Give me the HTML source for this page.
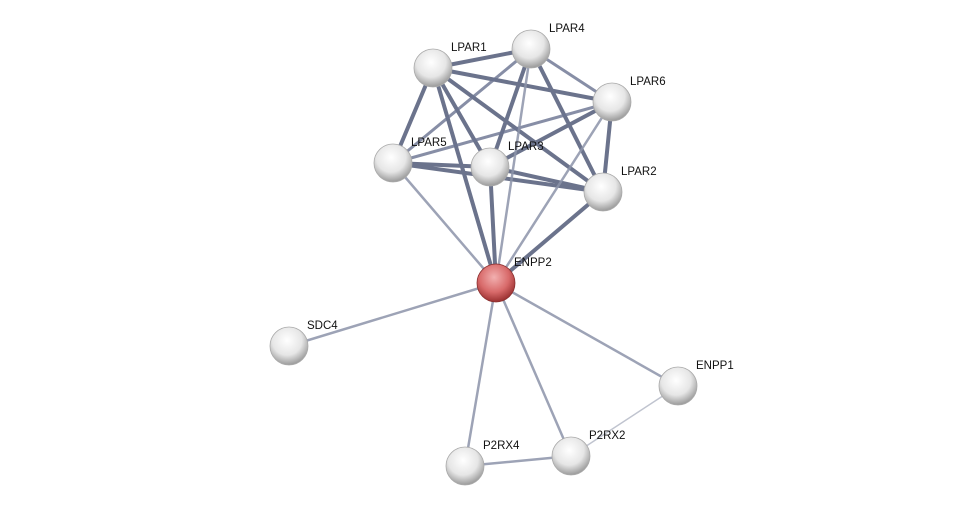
<!DOCTYPE html>
<html><head><meta charset="utf-8"><style>
html,body{margin:0;padding:0;background:#fff;}
svg{display:block;}
text{font-family:"Liberation Sans",sans-serif;font-size:11.5px;fill:#111;}
</style></head><body>
<svg width="975" height="511" viewBox="0 0 975 511" xmlns="http://www.w3.org/2000/svg">
<defs>
<radialGradient id="g" cx="45%" cy="35%" r="65%">
<stop offset="0" stop-color="#ffffff"/><stop offset="0.6" stop-color="#e6e6e6"/><stop offset="1" stop-color="#9a9a9a"/>
</radialGradient>
<radialGradient id="r" cx="45%" cy="35%" r="65%">
<stop offset="0" stop-color="#f2b0b0"/><stop offset="0.6" stop-color="#d86a6a"/><stop offset="1" stop-color="#9a3030"/>
</radialGradient>
</defs>
<g stroke-linecap="round">
<!-- dark thick edges -->
<g stroke="#525b78" stroke-width="4" opacity="0.85">
<line x1="433" y1="68" x2="531" y2="49"/>
<line x1="433" y1="68" x2="612" y2="102"/>
<line x1="433" y1="68" x2="393" y2="163"/>
<line x1="433" y1="68" x2="490" y2="167"/>
<line x1="433" y1="68" x2="603" y2="192"/>
<line x1="433" y1="68" x2="496" y2="283"/>
<line x1="531" y1="49" x2="490" y2="167"/>
<line x1="531" y1="49" x2="603" y2="192"/>
<line x1="612" y1="102" x2="603" y2="192"/>
<line x1="612" y1="102" x2="490" y2="167"/>
<line x1="393" y1="163" x2="490" y2="167"/>
<line x1="393" y1="163" x2="603" y2="192"/>
<line x1="490" y1="167" x2="603" y2="192"/>
<line x1="490" y1="167" x2="496" y2="283"/>
<line x1="603" y1="192" x2="496" y2="283"/>
</g>
<g stroke="#6a7390" stroke-width="3" opacity="0.8">
<line x1="531" y1="49" x2="612" y2="102"/>
<line x1="531" y1="49" x2="393" y2="163"/>
<line x1="612" y1="102" x2="393" y2="163"/>
</g>
<g stroke="#8d94aa" stroke-width="2.5" opacity="0.85">
<line x1="531" y1="49" x2="496" y2="283"/>
<line x1="612" y1="102" x2="496" y2="283"/>
<line x1="393" y1="163" x2="496" y2="283"/>
<line x1="496" y1="283" x2="289" y2="346"/>
<line x1="496" y1="283" x2="465" y2="466"/>
<line x1="496" y1="283" x2="571" y2="456"/>
<line x1="496" y1="283" x2="678" y2="386"/>
<line x1="465" y1="466" x2="571" y2="456"/>
</g>
<line x1="571" y1="456" x2="678" y2="386" stroke="#c0c4cf" stroke-width="1.5"/>
</g>
<g>
<circle cx="433" cy="68" r="19" fill="url(#g)" stroke="#aaa" stroke-width="0.8"/>
<circle cx="531" cy="49" r="19" fill="url(#g)" stroke="#aaa" stroke-width="0.8"/>
<circle cx="612" cy="102" r="19" fill="url(#g)" stroke="#aaa" stroke-width="0.8"/>
<circle cx="393" cy="163" r="19" fill="url(#g)" stroke="#aaa" stroke-width="0.8"/>
<circle cx="490" cy="167" r="19" fill="url(#g)" stroke="#aaa" stroke-width="0.8"/>
<circle cx="603" cy="192" r="19" fill="url(#g)" stroke="#aaa" stroke-width="0.8"/>
<circle cx="496" cy="283" r="19" fill="url(#r)" stroke="#8a3030" stroke-width="0.8"/>
<circle cx="289" cy="346" r="19" fill="url(#g)" stroke="#aaa" stroke-width="0.8"/>
<circle cx="678" cy="386" r="19" fill="url(#g)" stroke="#aaa" stroke-width="0.8"/>
<circle cx="571" cy="456" r="19" fill="url(#g)" stroke="#aaa" stroke-width="0.8"/>
<circle cx="465" cy="466" r="19" fill="url(#g)" stroke="#aaa" stroke-width="0.8"/>
</g>
<g>
<text x="451" y="51">LPAR1</text>
<text x="549" y="32">LPAR4</text>
<text x="630" y="85">LPAR6</text>
<text x="411" y="146">LPAR5</text>
<text x="508" y="150">LPAR3</text>
<text x="621" y="175">LPAR2</text>
<text x="514" y="266">ENPP2</text>
<text x="307" y="329">SDC4</text>
<text x="696" y="369">ENPP1</text>
<text x="589" y="439">P2RX2</text>
<text x="483" y="449">P2RX4</text>
</g>
</svg>
</body></html>
